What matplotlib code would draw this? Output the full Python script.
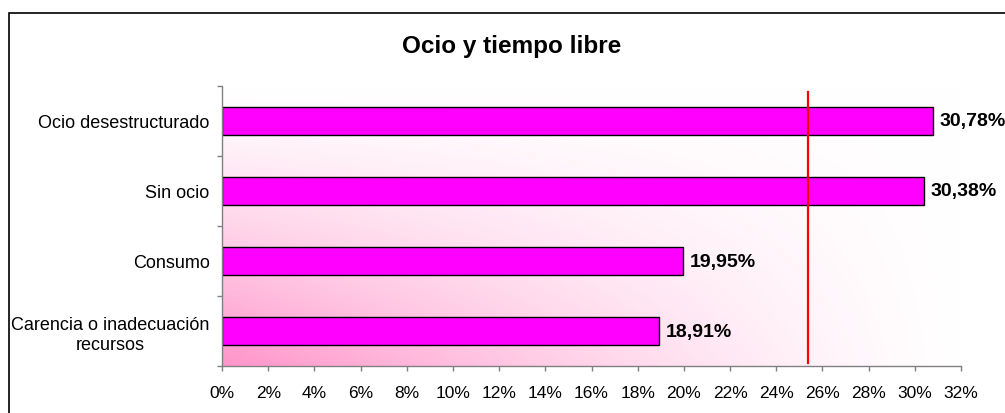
import numpy as np
import matplotlib
matplotlib.use("Agg")
import matplotlib.pyplot as plt
from matplotlib.patches import Rectangle
from matplotlib.ticker import FixedLocator

plt.rcParams['font.family'] = ['Liberation Sans', 'DejaVu Sans']

# ---- data ----
title = "Ocio y tiempo libre"
categories = ["Ocio desestructurado", "Sin ocio", "Consumo",
              "Carencia o inadecuación\nrecursos"]
values = [30.78, 30.38, 19.95, 18.91]
reference_value = 25.37
xticks = list(range(0, 33, 2))
xtick_labels = [f"{t}%" for t in xticks]

fig = plt.figure(figsize=(10.05, 4.14), dpi=100)
ax = fig.add_axes([222/1005, 1-367/414, (961-222)/1005, (367-87)/414])

# gradient background
nx, ny = 300, 150
xn = np.linspace(0, 1, nx)[None, :]
yn = np.linspace(1, 0, ny)[:, None]
f = (1 - xn) ** 1.3 * (1 - yn) ** 1.3
pink = np.array([1.0, 0.58, 0.79])
img = np.ones((ny, nx, 3)) * (1 - f[..., None]) + pink * f[..., None]
ax.imshow(img, extent=[0, 1, 0, 1], transform=ax.transAxes, aspect='auto',
          zorder=0, interpolation='bilinear')

n = len(categories)
pos = np.arange(n)[::-1]
bars = ax.barh(pos, values, height=0.4, color='#FF00FF', edgecolor='black',
               linewidth=1.0, zorder=2)
labels = [f"{v:.2f}%".replace('.', ',') for v in values]
ax.bar_label(bars, labels=labels, padding=5, fontsize=14, fontweight='bold',
             zorder=4)

ax.axvline(reference_value, ymin=3/280, ymax=1-6/280, color='#FF0000',
           linewidth=1.6, zorder=3)

ax.set_xlim(0, 32)
ax.set_ylim(-0.5, n - 0.5)
ax.set_xticks(xticks)
ax.set_xticklabels(xtick_labels, fontsize=12.5)
ax.set_yticks(pos)
ax.set_yticklabels(categories, fontsize=13, multialignment='center')
ax.yaxis.set_minor_locator(FixedLocator(np.arange(-0.5, n, 1.0)))

for s in ['top', 'right']:
    ax.spines[s].set_visible(False)
for s in ['left', 'bottom']:
    ax.spines[s].set_color('#808080')
    ax.spines[s].set_linewidth(1.0)

ax.tick_params(axis='y', which='major', length=0, pad=9)
ax.tick_params(axis='y', which='minor', length=3.5, color='#808080', width=1)
ax.tick_params(axis='x', which='major', length=3.5, color='#808080', width=1,
               pad=10)

fig.text(512/1005, 1-46/414, title, fontsize=17.5, fontweight='bold',
         ha='center', va='center')

fig.patches.append(Rectangle((9/1005, -0.1), 1.2, 1.1 - 14/414,
                             transform=fig.transFigure, fill=False,
                             edgecolor='black', linewidth=1.2))

fig.savefig("out.png", dpi=100)
